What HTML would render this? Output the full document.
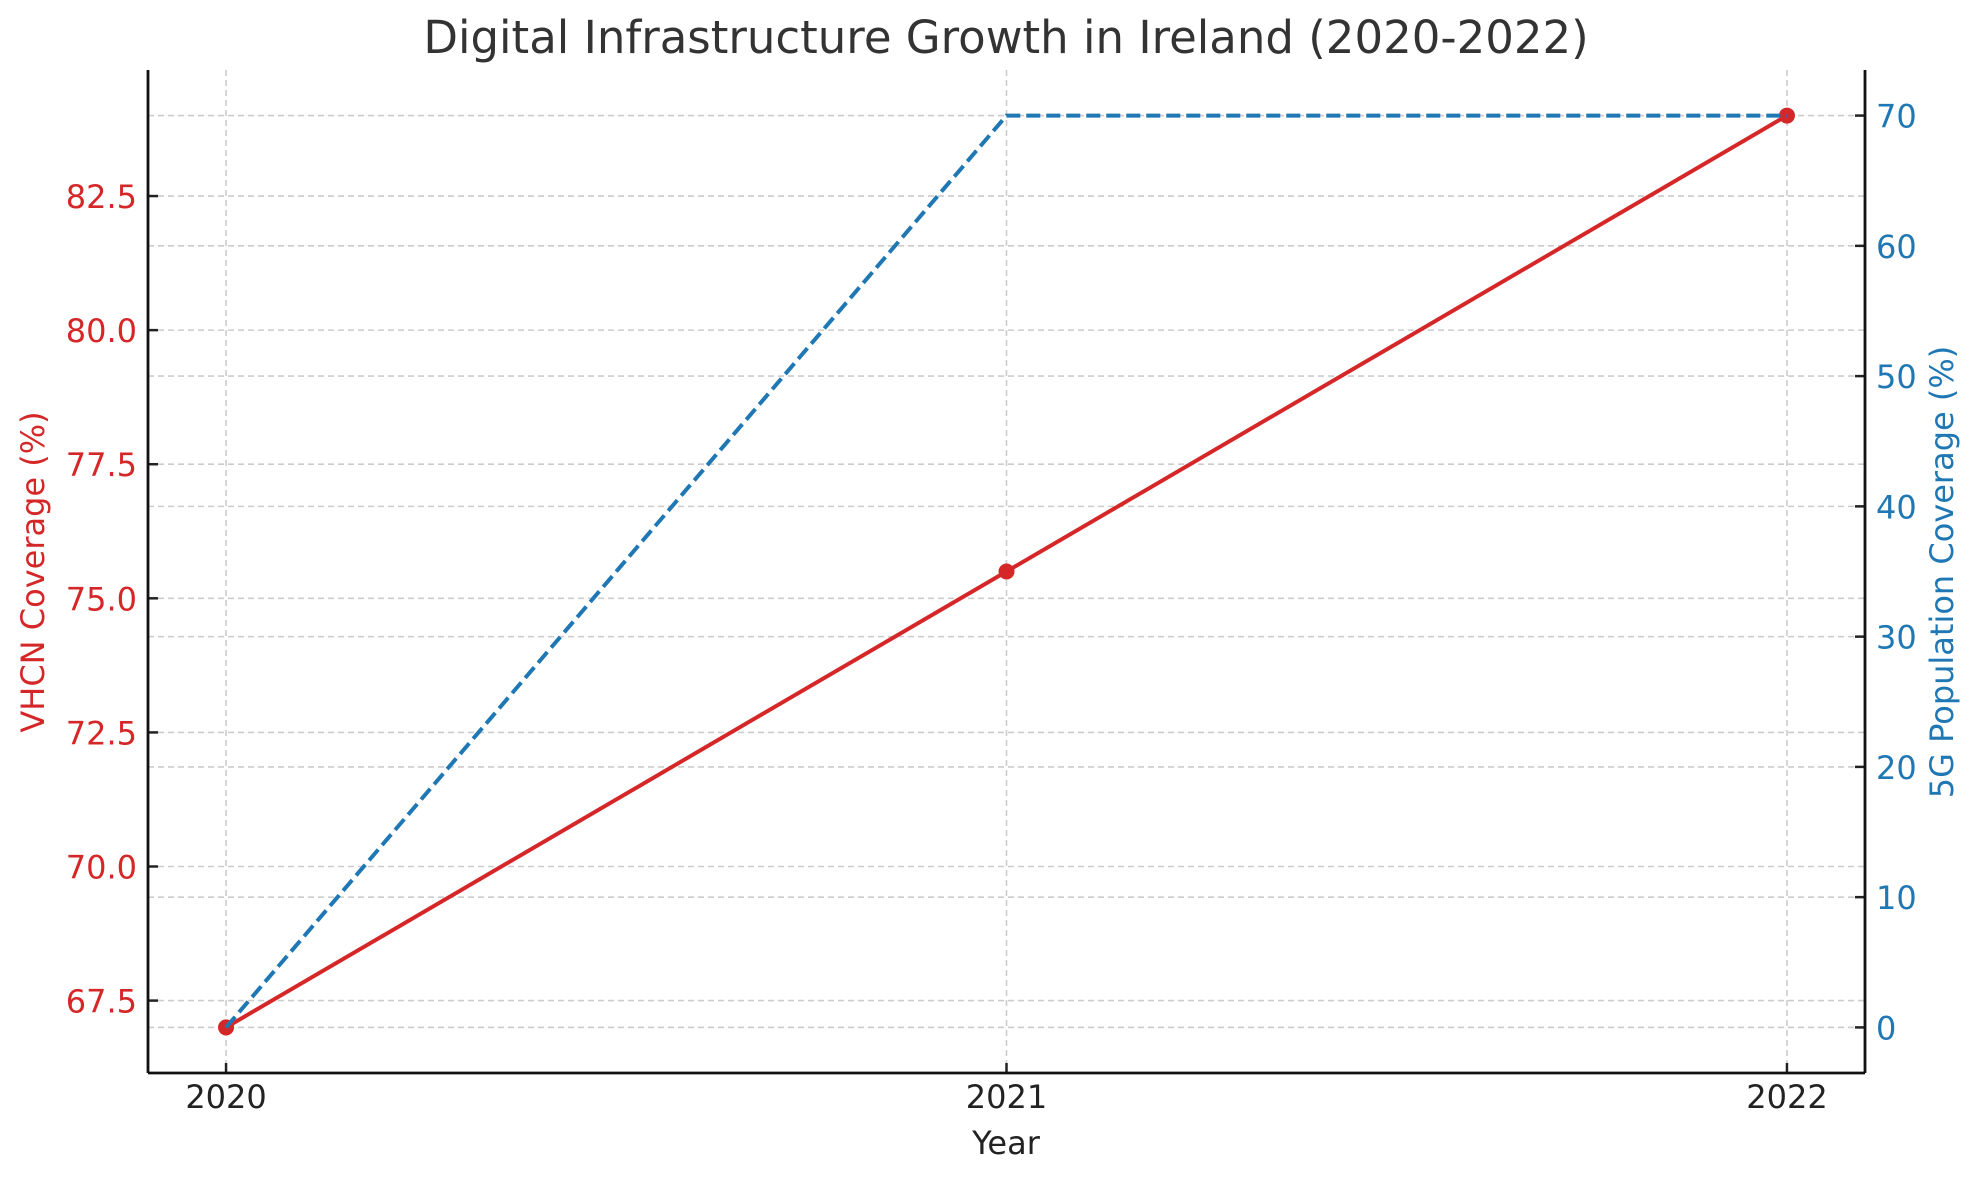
<!DOCTYPE html>
<html><head><meta charset="utf-8"><style>
html,body{margin:0;padding:0;background:#fff;}
svg{display:block;font-family:"DejaVu Sans","Liberation Sans",sans-serif;}
</style></head><body>
<svg id="chart" width="1980" height="1180" viewBox="0 0 1980 1180" xmlns="http://www.w3.org/2000/svg">
<rect width="1980" height="1180" fill="#fff"/>
<g id="grid"></g>
<g id="series"></g>
<g id="axes"></g>
<text x="1006" y="53" text-anchor="middle" font-size="45" fill="#333">Digital Infrastructure Growth in Ireland (2020-2022)</text>
<text x="1006" y="1154" text-anchor="middle" font-size="32" fill="#222">Year</text>
<text transform="translate(44,572) rotate(-90)" text-anchor="middle" font-size="32" fill="#d62728">VHCN Coverage (%)</text>
<text transform="translate(1953,572) rotate(-90)" text-anchor="middle" font-size="32" fill="#1f77b4">5G Population Coverage (%)</text>
</svg>
<script>
const years = [2020, 2021, 2022];
const vhcn = [67, 75.5, 84];
const fiveG = [0, 70, 70];
const leftTicks = [67.5, 70.0, 72.5, 75.0, 77.5, 80.0, 82.5];
const rightTicks = [0, 10, 20, 30, 40, 50, 60, 70];

const NS = 'http://www.w3.org/2000/svg';
const L = 148, R = 1865, T = 70, B = 1073;
function ext(a){const mn=Math.min(...a),mx=Math.max(...a),m=(mx-mn)*0.05;return [mn-m,mx+m];}
const xd = ext(years), yl = ext(vhcn), yr = ext(fiveG);
const x = v => L + (v - xd[0]) / (xd[1] - xd[0]) * (R - L);
const yL = v => B - (v - yl[0]) / (yl[1] - yl[0]) * (B - T);
const yR = v => B - (v - yr[0]) / (yr[1] - yr[0]) * (B - T);
function mk(tag, attrs, parent){const e=document.createElementNS(NS,tag);for(const k in attrs)e.setAttribute(k,attrs[k]);parent.appendChild(e);return e;}
const grid = document.getElementById('grid'), series = document.getElementById('series'), axes = document.getElementById('axes');
const gs = {stroke:'#cccccc','stroke-width':1.6,'stroke-dasharray':'6,4'};

years.forEach(v => {
  const g = mk('line', Object.assign({x1:x(v),x2:x(v),y1:T,y2:B}, gs), grid);
  
  
  const t = mk('line', {x1:x(v),x2:x(v),y1:B,y2:B-10,stroke:'#222','stroke-width':2.5}, axes);
  
  
  const lb = mk('text', {x:x(v),y:1108,'text-anchor':'middle','font-size':32,fill:'#222'}, axes);
  lb.textContent = v;
  
  
});
leftTicks.forEach(v => {
  const g = mk('line', Object.assign({x1:L,x2:R,y1:yL(v),y2:yL(v)}, gs), grid);
  
  
  const t = mk('line', {x1:L,x2:L+10,y1:yL(v),y2:yL(v),stroke:'#222','stroke-width':2.5}, axes);
  
  
  const lb = mk('text', {x:137,y:yL(v)+12,'text-anchor':'end','font-size':32,fill:'#d62728'}, axes);
  lb.textContent = v.toFixed(1);
  
  
});
rightTicks.forEach(v => {
  const g = mk('line', Object.assign({x1:L,x2:R,y1:yR(v),y2:yR(v)}, gs), grid);
  
  
  const t = mk('line', {x1:R-10,x2:R,y1:yR(v),y2:yR(v),stroke:'#222','stroke-width':2.5}, axes);
  
  
  const lb = mk('text', {x:1876,y:yR(v)+12,'text-anchor':'start','font-size':32,fill:'#1f77b4'}, axes);
  lb.textContent = v;
  
  
});
[['left-spine',L,T,L,B],['bottom-spine',L,B,R,B],['right-spine',R,T,R,B]].forEach(s => {
  const e = mk('line', {x1:s[1],y1:s[2],x2:s[3],y2:s[4],stroke:'#111','stroke-width':2.8}, axes);
  
  
});
const redLine = mk('polyline', {points: years.map((v,i)=>x(v)+','+yL(vhcn[i])).join(' '), fill:'none', stroke:'#d62728','stroke-width':4}, series);


years.forEach((v,i) => {
  const c = mk('circle', {cx:x(v),cy:yL(vhcn[i]),r:8,fill:'#d62728'}, series);
  
  
});
const blueLine = mk('polyline', {points: years.map((v,i)=>x(v)+','+yR(fiveG[i])).join(' '), fill:'none', stroke:'#1f77b4','stroke-width':4,'stroke-dasharray':'14,6'}, series);


</script>
</body></html>
